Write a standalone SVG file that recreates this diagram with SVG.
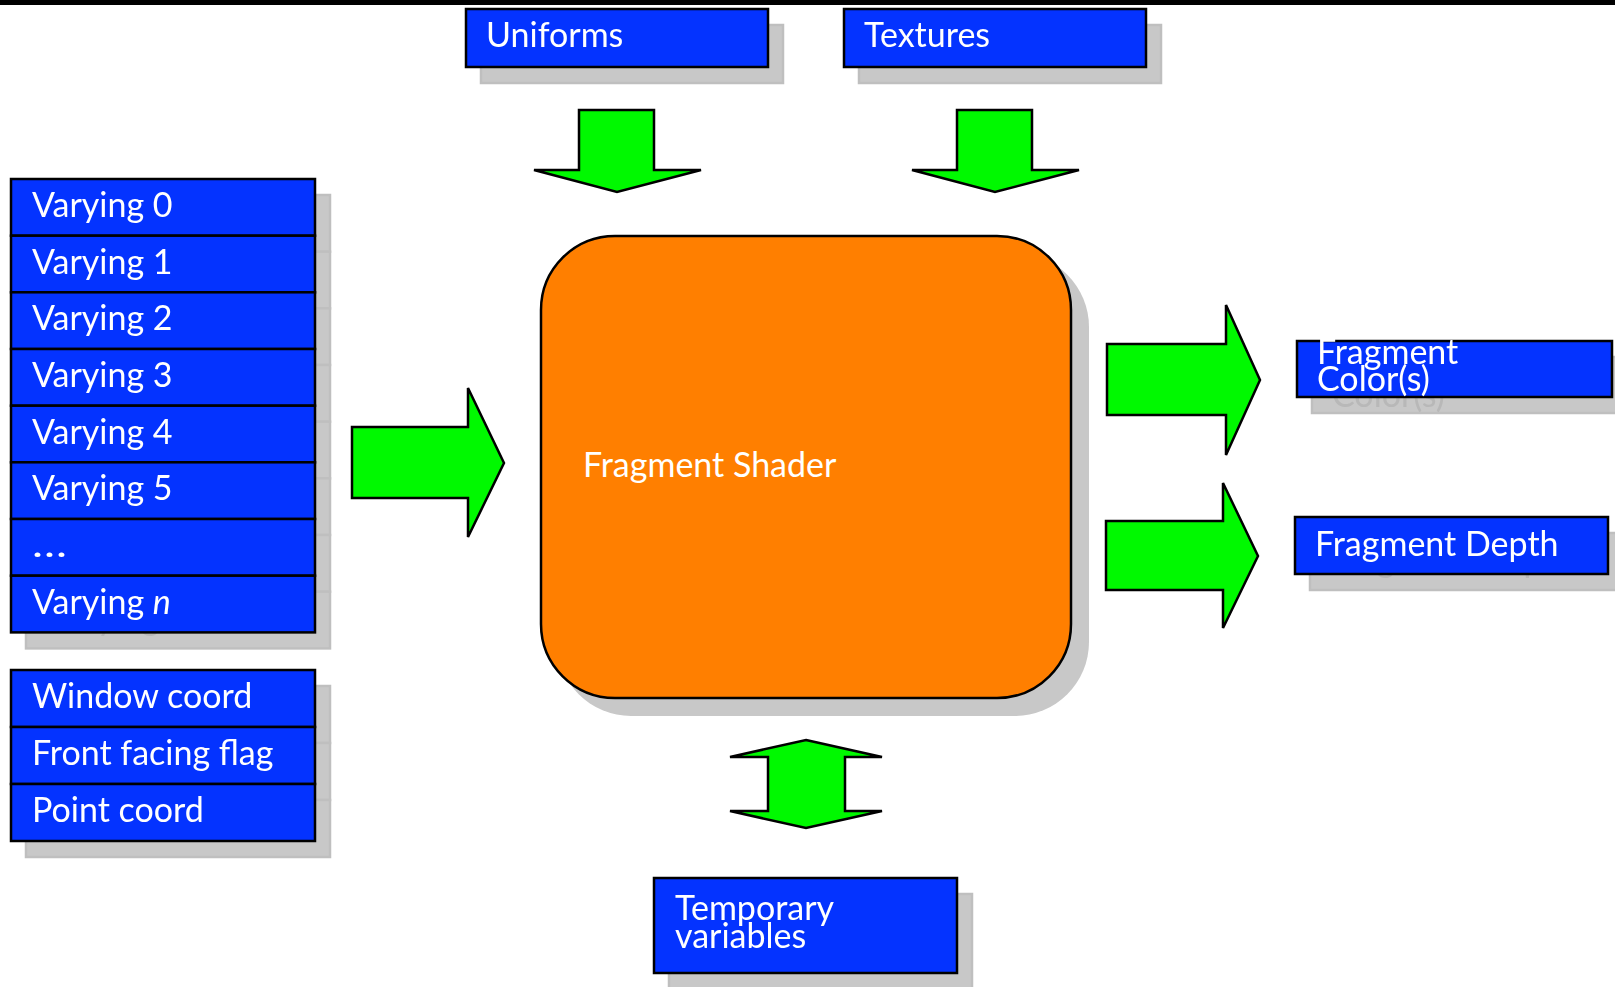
<svg xmlns="http://www.w3.org/2000/svg" width="1615" height="987" viewBox="0 0 1615 987">
  <defs>
    <!-- offset grey copy of a blue box group: fill, border and lettering get slightly different greys -->
    <filter id="drop" x="-5%" y="-5%" width="130%" height="160%" color-interpolation-filters="sRGB">
      <feOffset in="SourceGraphic" dx="15" dy="16" result="moved"/>
      <feColorMatrix in="moved" type="matrix" result="grey"
        values="-0.2174 0.1874 0 0 0.75
                -0.2174 0.1874 0 0 0.75
                -0.2174 0.1874 0 0 0.75
                 0 0 0 1 0"/>
      <feMerge>
        <feMergeNode in="grey"/>
        <feMergeNode in="SourceGraphic"/>
      </feMerge>
    </filter>
  </defs>
  <style>
    .box { fill: #0433ff; stroke: #000; stroke-width: 2.5; }
    .shadow { fill: #c8c8c8; }
    .lbl { font-family: Lato, "Liberation Sans", sans-serif; font-size: 34px; fill: #fff; }
    .arrow { fill: #00f900; stroke: #000; stroke-width: 2.5; stroke-linejoin: miter; }
    .core { fill: #ff7f00; stroke: #000; stroke-width: 2.5; }
    .dropped { filter: url(#drop); }
  </style>

  <!-- top rule -->
  <rect x="0" y="0" width="1615" height="5" fill="#000"/>

  <!-- inputs from above -->
  <g id="uniforms" class="dropped">
    <rect class="box" x="466" y="9" width="302" height="58"/>
    <text class="lbl" x="486" y="47">Uniforms</text>
  </g>
  <g id="textures" class="dropped">
    <rect class="box" x="844" y="9" width="302" height="58"/>
    <text class="lbl" x="864" y="47">Textures</text>
  </g>

  <!-- varyings stack -->
  <g id="varyings" class="dropped">
    <g id="varying0"><rect class="box" x="11" y="179" width="304" height="56.7"/><text class="lbl" x="32" y="217">Varying 0</text></g>
    <g id="varying1"><rect class="box" x="11" y="235.7" width="304" height="56.7"/><text class="lbl" x="32" y="274">Varying 1</text></g>
    <g id="varying2"><rect class="box" x="11" y="292.3" width="304" height="56.7"/><text class="lbl" x="32" y="330">Varying 2</text></g>
    <g id="varying3"><rect class="box" x="11" y="349" width="304" height="56.7"/><text class="lbl" x="32" y="387">Varying 3</text></g>
    <g id="varying4"><rect class="box" x="11" y="405.7" width="304" height="56.7"/><text class="lbl" x="32" y="444">Varying 4</text></g>
    <g id="varying5"><rect class="box" x="11" y="462.3" width="304" height="56.7"/><text class="lbl" x="32" y="500">Varying 5</text></g>
    <g id="varying-more"><rect class="box" x="11" y="519" width="304" height="56.7"/><text class="lbl" x="32" y="557" textLength="35" lengthAdjust="spacingAndGlyphs">…</text></g>
    <g id="varying-n"><rect class="box" x="11" y="575.7" width="304" height="56.7"/><text class="lbl" x="32" y="614">Varying <tspan font-style="italic">n</tspan></text></g>
  </g>

  <!-- built-in inputs stack -->
  <g id="builtins" class="dropped">
    <g id="window-coord"><rect class="box" x="11" y="670" width="304" height="57"/><text class="lbl" x="32" y="708">Window coord</text></g>
    <g id="front-facing"><rect class="box" x="11" y="727" width="304" height="57"/><text class="lbl" x="32" y="765">Front facing flag</text></g>
    <g id="point-coord"><rect class="box" x="11" y="784" width="304" height="57"/><text class="lbl" x="32" y="822">Point coord</text></g>
  </g>

  <!-- shader core -->
  <g id="fragment-shader">
    <rect class="shadow" x="557" y="253" width="532" height="463" rx="74" ry="74"/>
    <rect class="core" x="541" y="236" width="530" height="462" rx="74" ry="74"/>
    <text class="lbl" x="583" y="477">Fragment Shader</text>
  </g>

  <!-- outputs -->
  <g id="fragment-colors" class="dropped">
    <rect class="box" x="1297" y="341" width="315" height="56"/>
    <text class="lbl" x="1317" y="364">Fragment</text>
    <text class="lbl" x="1317" y="391">Color(s)</text>
  </g>
  <g id="fragment-depth" class="dropped">
    <rect class="box" x="1295" y="517" width="313" height="57"/>
    <text class="lbl" x="1315" y="556">Fragment Depth</text>
  </g>

  <!-- local storage -->
  <g id="temporaries" class="dropped">
    <rect class="box" x="654" y="878" width="303" height="95"/>
    <text class="lbl" x="675" y="920">Temporary</text>
    <text class="lbl" x="675" y="948">variables</text>
  </g>

  <!-- block arrows -->
  <g id="connectors">
    <polygon class="arrow" points="579,110 654,110 654,170 701,170 617,192 534,170 579,170"/>
    <polygon class="arrow" points="957,110 1032,110 1032,170 1079,170 995,192 912,170 957,170"/>
    <polygon class="arrow" points="352,427 468,427 468,388 504,463 468,537 468,498 352,498"/>
    <polygon class="arrow" points="1107,344 1226,344 1226,305 1260,380 1226,455 1226,415 1107,415"/>
    <polygon class="arrow" points="1106,521 1223,521 1223,483 1258,556 1223,628 1223,590 1106,590"/>
    <polygon class="arrow" points="806,740 882,757 845,757 845,811 882,811 806,828 730,811 768,811 768,757 730,757"/>
  </g>
</svg>
